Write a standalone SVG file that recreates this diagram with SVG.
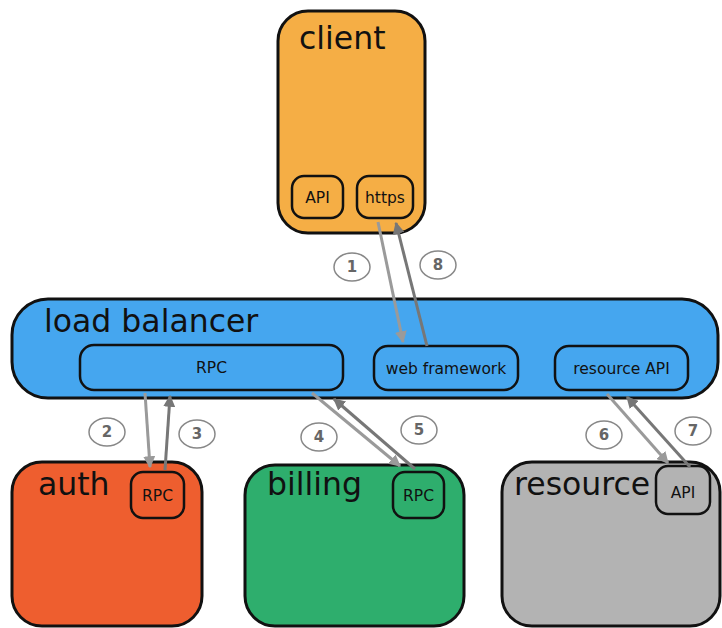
<svg xmlns="http://www.w3.org/2000/svg" width="722" height="628" viewBox="0 0 722 628">
<style>
.big{stroke:#111;stroke-width:3}
.sub{stroke:#111;stroke-width:2.5}
.t{font-family:"DejaVu Sans","Open Sans",sans-serif;fill:#111}
.title{font-size:31.5px}
.small{font-size:15.5px;text-anchor:middle}
.lbl{fill:#fff;stroke:#888;stroke-width:1.5}
.num{font-family:"DejaVu Sans","Open Sans",sans-serif;font-size:15px;font-weight:bold;fill:#666;text-anchor:middle}
.req{stroke:#9a9a9a;stroke-width:3;fill:none;marker-end:url(#ah1)}
.res{stroke:#777;stroke-width:3;fill:none;marker-end:url(#ah2)}
</style>
<defs>
<marker id="ah1" viewBox="0 0 10 10" refX="9" refY="5" markerWidth="4" markerHeight="4" orient="auto"><path d="M0,0L10,5L0,10z" fill="#9a9a9a"/></marker>
<marker id="ah2" viewBox="0 0 10 10" refX="9" refY="5" markerWidth="4" markerHeight="4" orient="auto"><path d="M0,0L10,5L0,10z" fill="#777"/></marker>
</defs>
<rect width="722" height="628" fill="#fff"/>
<g id="client">
<rect x="278" y="11" width="147" height="222" rx="30" fill="#F5AE45" class="big"/>
<text x="299" y="49" class="t title">client</text>
<g id="client-api"><rect x="292" y="176" width="51" height="42" rx="12" fill="#F5AE45" class="sub"/><text x="317.5" y="203" class="t small">API</text></g>
<g id="client-https"><rect x="357" y="176" width="56" height="42" rx="12" fill="#F5AE45" class="sub"/><text x="385" y="203" class="t small">https</text></g>
</g>
<g id="load-balancer">
<rect x="12" y="299" width="706" height="99" rx="36" fill="#45A6EF" class="big"/>
<text x="44" y="332" class="t title">load balancer</text>
<g id="lb-rpc"><rect x="80" y="345" width="263" height="45" rx="14" fill="#45A6EF" class="sub"/><text x="211.5" y="373" class="t small">RPC</text></g>
<g id="lb-web"><rect x="374" y="346" width="144" height="44" rx="14" fill="#45A6EF" class="sub"/><text x="446" y="374" class="t small">web framework</text></g>
<g id="lb-resapi"><rect x="555" y="346" width="133" height="44" rx="14" fill="#45A6EF" class="sub"/><text x="621.5" y="374" class="t small">resource API</text></g>
</g>
<g id="auth">
<rect x="12" y="462" width="190" height="164" rx="30" fill="#EE5E2F" class="big"/>
<text x="38" y="495" class="t title">auth</text>
<g id="auth-rpc"><rect x="131" y="472" width="53" height="46" rx="12" fill="#EE5E2F" class="sub"/><text x="157.5" y="501" class="t small">RPC</text></g>
</g>
<g id="billing">
<rect x="245" y="465" width="219" height="161" rx="30" fill="#2EAE6D" class="big"/>
<text x="267" y="495" class="t title">billing</text>
<g id="billing-rpc"><rect x="393" y="472" width="51" height="46" rx="12" fill="#2EAE6D" class="sub"/><text x="418.5" y="501" class="t small">RPC</text></g>
</g>
<g id="resource">
<rect x="502" y="462" width="218" height="164" rx="30" fill="#B3B3B3" class="big"/>
<text x="514" y="495" class="t title">resource</text>
<g id="resource-api"><rect x="656" y="466" width="54" height="48" rx="12" fill="#B3B3B3" class="sub"/><text x="683" y="498" class="t small">API</text></g>
</g>
<g id="connectors">
<line x1="378" y1="222" x2="403" y2="342" class="req"/>
<line x1="427" y1="346" x2="396" y2="223" class="res"/>
<line x1="145" y1="393" x2="150" y2="467" class="req"/>
<line x1="165" y1="470" x2="170" y2="396" class="res"/>
<line x1="312" y1="393" x2="400" y2="466" class="req"/>
<line x1="415" y1="469" x2="334" y2="399" class="res"/>
<line x1="607" y1="394" x2="668" y2="463" class="req"/>
<line x1="690" y1="467" x2="627" y2="397" class="res"/>
</g>
<g id="labels">
<ellipse cx="352" cy="267" rx="18" ry="14" class="lbl"/><text x="352" y="272" class="num">1</text>
<ellipse cx="438" cy="265" rx="18" ry="14" class="lbl"/><text x="438" y="270" class="num">8</text>
<ellipse cx="107" cy="432" rx="18" ry="14" class="lbl"/><text x="107" y="437" class="num">2</text>
<ellipse cx="197" cy="434" rx="18" ry="14" class="lbl"/><text x="197" y="439" class="num">3</text>
<ellipse cx="319" cy="437" rx="18" ry="14" class="lbl"/><text x="319" y="442" class="num">4</text>
<ellipse cx="419" cy="430" rx="18" ry="14" class="lbl"/><text x="419" y="435" class="num">5</text>
<ellipse cx="604" cy="435" rx="18" ry="14" class="lbl"/><text x="604" y="440" class="num">6</text>
<ellipse cx="693" cy="431" rx="18" ry="14" class="lbl"/><text x="693" y="436" class="num">7</text>
</g>
</svg>
